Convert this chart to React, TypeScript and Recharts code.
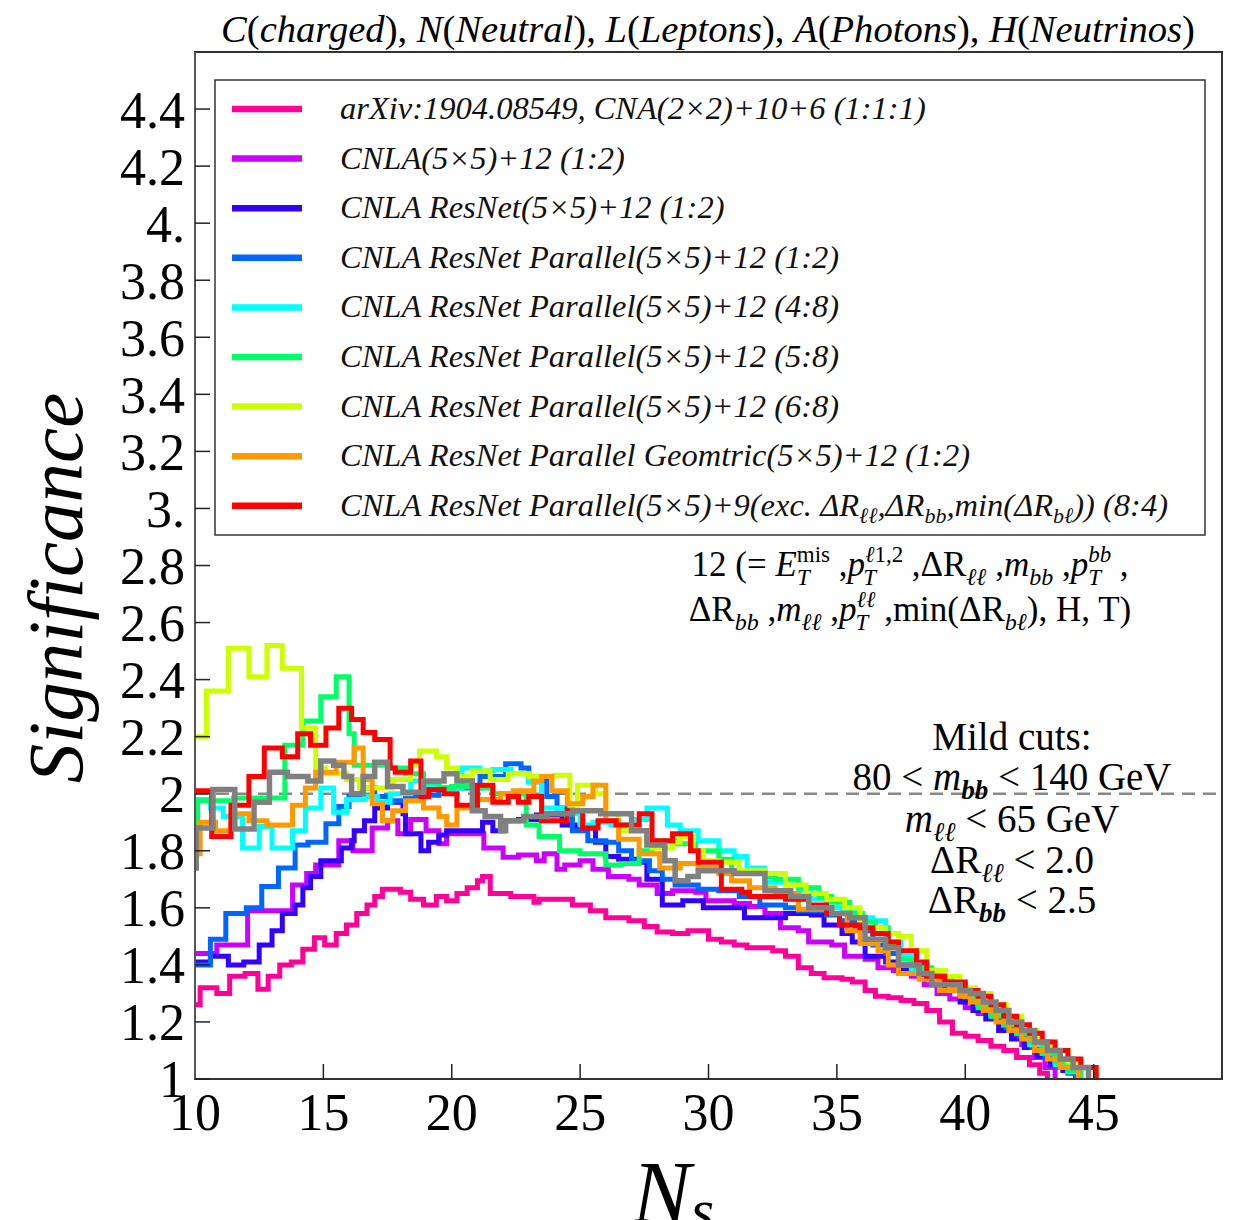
import { LineChart, Line, XAxis, YAxis, ReferenceLine, ReferenceArea } from 'recharts'

// [Ns, significance] step points
const pink = [
  [10, 1.26], [10.2, 1.32], [10.85, 1.3], [11.35, 1.36], [11.95, 1.37], [12.45, 1.315], [12.85, 1.36], [13.3, 1.4],
  [13.75, 1.41], [14.2, 1.455], [14.65, 1.495], [15.05, 1.47], [15.5, 1.51], [15.9, 1.54], [16.3, 1.58], [16.7, 1.61],
  [17.0, 1.64], [17.3, 1.665], [18.0, 1.655], [18.4, 1.63], [18.9, 1.61], [19.4, 1.64], [19.8, 1.625], [20.2, 1.65],
  [20.6, 1.67], [21.0, 1.695], [21.2, 1.71], [21.5, 1.65], [22.3, 1.64], [23.2, 1.62], [23.4, 1.63], [24.7, 1.61],
  [25.4, 1.59], [26.0, 1.565], [26.9, 1.555], [27.5, 1.535], [28.0, 1.515], [28.6, 1.51], [29.2, 1.52], [29.6, 1.52],
  [30.0, 1.49], [30.5, 1.48], [31.0, 1.47], [31.5, 1.46], [32.0, 1.46], [32.5, 1.45], [33.0, 1.43], [33.5, 1.39],
  [34.0, 1.37], [34.5, 1.355], [35.2, 1.35], [35.6, 1.34], [36.1, 1.31], [36.5, 1.29], [37.0, 1.285], [37.5, 1.275],
  [38.0, 1.265], [38.5, 1.24], [39.0, 1.2], [39.5, 1.16], [40.0, 1.15], [40.5, 1.135], [41.0, 1.115], [41.5, 1.1],
  [42.0, 1.075], [42.5, 1.05], [42.9, 1.02], [43.2, 1.0],
]

const purple = [
  [10, 1.44], [10.85, 1.47], [12.05, 1.59], [13.8, 1.68], [14.35, 1.72], [14.7, 1.75], [15.6, 1.835], [16.15, 1.8],
  [16.9, 1.88], [17.5, 1.905], [17.9, 1.86], [18.4, 1.91], [19.0, 1.87], [19.5, 1.825], [19.8, 1.86], [21.25, 1.81],
  [22.0, 1.777], [22.6, 1.785], [23.3, 1.765], [23.6, 1.79], [24.1, 1.735], [24.4, 1.75], [25.0, 1.765], [25.5, 1.735],
  [26.1, 1.71], [26.9, 1.7], [27.3, 1.68], [28.0, 1.65], [28.6, 1.66], [29.5, 1.655], [29.9, 1.625], [30.5, 1.625],
  [31.0, 1.615], [31.6, 1.605], [32.2, 1.58], [32.8, 1.53], [33.5, 1.52], [33.9, 1.48], [34.8, 1.47], [35.3, 1.43],
  [36.1, 1.42], [36.6, 1.39], [37.2, 1.38], [37.9, 1.36], [38.4, 1.33], [38.9, 1.3], [39.4, 1.28], [40.0, 1.25],
  [40.5, 1.23], [40.9, 1.215], [41.4, 1.18], [41.8, 1.155], [42.2, 1.12], [42.7, 1.075], [43.1, 1.04], [43.5, 1.0],
]

const darkBlue = [
  [10, 1.41], [10.6, 1.43], [11.3, 1.4], [11.9, 1.41], [12.5, 1.47], [13.0, 1.52], [13.4, 1.58], [13.9, 1.61],
  [14.2, 1.67], [14.5, 1.71], [14.9, 1.765], [15.7, 1.81], [16.1, 1.835], [16.2, 1.87], [16.6, 1.905], [17.0, 1.95],
  [17.5, 1.97], [18.1, 1.93], [18.2, 1.86], [18.8, 1.8], [19.1, 1.83], [19.5, 1.855], [19.8, 1.87], [21.2, 1.9],
  [21.6, 1.87], [22.0, 1.905], [22.6, 1.91], [23.3, 1.925], [24.3, 1.89], [24.8, 1.88], [25.6, 1.83], [26.0, 1.78],
  [26.5, 1.77], [27.2, 1.76], [27.6, 1.7], [28.2, 1.61], [29.0, 1.625], [29.8, 1.6], [30.4, 1.6], [31.4, 1.565],
  [32.2, 1.565], [33.0, 1.58], [34.0, 1.575], [34.5, 1.54], [35.2, 1.51], [35.6, 1.48], [36.1, 1.43], [36.9, 1.41],
  [37.4, 1.38], [38.2, 1.36], [38.7, 1.33], [39.2, 1.31], [39.8, 1.27], [40.3, 1.24], [40.8, 1.21], [41.3, 1.17],
  [41.8, 1.14], [42.3, 1.11], [42.8, 1.08], [43.3, 1.05], [43.8, 1.03], [44.3, 1.0],
]

const blue = [
  [10, 1.4], [10.6, 1.49], [11.2, 1.58], [12.0, 1.6], [12.6, 1.675], [13.25, 1.74], [13.9, 1.82], [14.4, 1.83],
  [15.1, 1.895], [15.6, 1.955], [16.0, 1.99], [16.5, 2.02], [17.0, 1.99], [17.6, 1.975], [18.2, 1.99], [19.0, 1.995],
  [19.5, 2.02], [21.1, 2.06], [22.1, 2.105], [22.7, 2.09], [23.0, 2.045], [23.7, 1.99], [24.1, 1.95], [24.7, 1.87],
  [25.3, 1.835], [26.0, 1.83], [26.5, 1.8], [27.0, 1.765], [27.7, 1.73], [28.2, 1.7], [28.7, 1.68], [29.6, 1.665],
  [30.4, 1.66], [31.2, 1.64], [32.0, 1.61], [33.0, 1.6], [33.5, 1.59], [34.6, 1.575], [35.1, 1.555], [35.7, 1.52],
  [36.4, 1.47], [36.9, 1.44], [37.4, 1.4], [38.5, 1.38], [39.2, 1.33], [40.0, 1.3], [40.5, 1.26], [41.0, 1.22],
  [41.6, 1.18], [42.1, 1.15], [42.6, 1.11], [43.1, 1.08], [43.6, 1.04], [44.0, 1.02], [44.3, 1.0],
]

const cyan = [
  [10, 1.98], [10.6, 1.95], [11.1, 1.92], [11.85, 1.81], [12.5, 1.885], [13.0, 1.81], [13.8, 1.87], [14.3, 1.95],
  [14.9, 2.02], [15.4, 1.935], [15.9, 1.98], [16.6, 1.99], [17.1, 1.97], [17.6, 2.0], [18.4, 2.045], [18.9, 2.03],
  [19.5, 2.02], [20.4, 2.09], [21.1, 2.08], [21.6, 2.085], [22.3, 2.07], [23.0, 2.04], [23.5, 1.95], [24.3, 1.93],
  [25.0, 1.89], [25.5, 1.9], [26.2, 1.89], [27.0, 1.91], [27.6, 1.95], [28.4, 1.89], [28.9, 1.87], [29.6, 1.835],
  [30.4, 1.8], [31.0, 1.78], [31.5, 1.74], [32.2, 1.69], [33.0, 1.68], [33.5, 1.66], [34.0, 1.63], [34.6, 1.6],
  [35.2, 1.585], [35.8, 1.565], [36.4, 1.555], [36.9, 1.48], [37.5, 1.43], [37.9, 1.38], [38.5, 1.37], [39.0, 1.35],
  [39.5, 1.32], [40.0, 1.29], [40.5, 1.26], [41.0, 1.225], [41.5, 1.19], [42.0, 1.16], [42.5, 1.12], [43.0, 1.09],
  [43.5, 1.05], [44.0, 1.025], [44.5, 1.0],
]

const green = [
  [10, 1.84], [10.1, 1.975], [11.5, 1.985], [13.5, 2.17], [14.2, 2.255], [14.9, 2.34], [15.5, 2.41], [16.0, 2.21],
  [16.2, 2.1], [17.6, 2.09], [18.2, 2.07], [18.9, 2.04], [19.5, 2.02], [20.0, 2.025], [20.8, 2.02], [21.6, 2.0],
  [22.9, 1.89], [23.4, 1.85], [24.2, 1.8], [25.0, 1.79], [26.0, 1.75], [26.6, 1.755], [27.3, 1.8], [27.8, 1.835],
  [28.7, 1.825], [29.5, 1.8], [30.4, 1.77], [30.9, 1.725], [32.2, 1.71], [32.6, 1.7], [33.5, 1.67], [34.3, 1.64],
  [34.8, 1.62], [35.5, 1.58], [36.0, 1.55], [36.5, 1.53], [37.0, 1.47], [37.4, 1.42], [38.1, 1.39], [38.7, 1.35],
  [39.5, 1.33], [40.0, 1.29], [40.5, 1.25], [41.0, 1.22], [41.5, 1.19], [42.0, 1.16], [42.5, 1.13], [43.0, 1.09],
  [43.5, 1.06], [44.0, 1.03], [44.5, 1.0],
]

const yellow = [
  [10, 2.2], [10.45, 2.36], [11.3, 2.51], [12.1, 2.41], [12.8, 2.52], [13.4, 2.44], [14.15, 2.23], [14.7, 2.09],
  [15.1, 2.07], [15.9, 2.05], [16.4, 2.02], [17.7, 2.05], [18.4, 2.1], [18.75, 2.15], [19.4, 2.13], [19.8, 2.09],
  [20.2, 2.06], [20.8, 2.08], [21.5, 2.05], [22.2, 2.07], [23.0, 2.06], [24.0, 2.065], [24.6, 1.96], [24.9, 2.03],
  [25.6, 2.0], [26.0, 1.93], [26.5, 1.87], [27.6, 1.84], [27.8, 1.81], [28.6, 1.83], [28.9, 1.85], [29.4, 1.8],
  [29.8, 1.765], [30.4, 1.76], [31.2, 1.73], [32.2, 1.72], [33.0, 1.68], [33.8, 1.65], [34.6, 1.63], [35.3, 1.6],
  [35.9, 1.53], [36.9, 1.51], [37.4, 1.5], [37.9, 1.45], [38.5, 1.38], [39.2, 1.36], [39.8, 1.32], [40.4, 1.3],
  [41.0, 1.26], [41.6, 1.22], [42.2, 1.17], [42.8, 1.13], [43.4, 1.1], [44.0, 1.06], [44.5, 1.04], [45.1, 1.0],
]

const orange = [
  [10, 1.79], [10.2, 1.9], [10.8, 1.87], [11.4, 1.93], [12.1, 1.905], [12.8, 1.89], [13.8, 1.96], [14.3, 2.02],
  [14.7, 2.075], [15.5, 2.11], [16.2, 2.16], [16.55, 2.05], [16.9, 1.965], [17.3, 1.905], [17.7, 1.94], [18.2, 1.975],
  [18.9, 1.95], [19.5, 1.92], [19.8, 1.89], [20.2, 1.95], [21.0, 1.98], [21.9, 2.0], [22.4, 2.01], [23.2, 2.045],
  [23.5, 2.06], [23.9, 2.01], [24.5, 1.965], [25.1, 1.99], [25.5, 2.03], [26.0, 1.905], [26.5, 1.84], [27.3, 1.79],
  [28.1, 1.74], [28.9, 1.755], [29.6, 1.74], [30.4, 1.72], [30.9, 1.695], [31.6, 1.67], [32.6, 1.65], [33.5, 1.595],
  [34.8, 1.58], [35.4, 1.52], [35.9, 1.475], [36.6, 1.45], [37.0, 1.4], [37.4, 1.37], [38.2, 1.35], [39.0, 1.31],
  [39.8, 1.29], [40.2, 1.27], [40.7, 1.24], [41.2, 1.2], [41.7, 1.17], [42.2, 1.14], [42.7, 1.1], [43.2, 1.07],
  [43.7, 1.04], [44.4, 1.0],
]

const red = [
  [10, 2.01], [10.65, 1.85], [11.4, 1.96], [12.1, 2.06], [12.7, 2.16], [13.4, 2.13], [14.0, 2.21], [14.5, 2.17],
  [15.1, 2.23], [15.6, 2.3], [16.1, 2.26], [16.55, 2.215], [17.0, 2.19], [17.6, 2.09], [17.8, 2.075], [18.4, 2.115],
  [18.8, 1.99], [19.1, 2.015], [19.7, 2.0], [20.2, 1.96], [21.0, 2.03], [21.6, 1.97], [22.2, 1.99], [22.6, 1.97],
  [23.0, 1.99], [23.5, 1.905], [24.5, 1.94], [25.1, 1.88], [25.7, 1.905], [26.4, 1.89], [27.3, 1.93], [27.8, 1.835],
  [28.6, 1.86], [29.3, 1.8], [29.6, 1.76], [30.5, 1.665], [31.3, 1.655], [31.6, 1.64], [33.0, 1.63], [33.9, 1.61],
  [34.6, 1.58], [35.1, 1.54], [35.9, 1.53], [36.4, 1.51], [37.0, 1.48], [37.4, 1.45], [38.1, 1.41], [38.5, 1.36],
  [39.2, 1.34], [40.0, 1.31], [40.5, 1.29], [41.0, 1.26], [41.5, 1.22], [42.0, 1.19], [42.5, 1.16], [43.0, 1.13],
  [43.5, 1.1], [44.0, 1.07], [44.5, 1.04], [45.1, 1.0],
]

const gray = [
  [10, 1.74], [10.05, 1.88], [10.7, 2.015], [11.55, 1.876], [12.3, 1.97], [12.9, 2.075], [13.6, 2.06], [14.4, 2.045],
  [14.9, 2.115], [15.4, 2.1], [15.8, 2.06], [16.1, 2.0], [16.55, 2.06], [17.0, 2.11], [17.5, 2.025], [18.1, 2.005],
  [18.9, 2.045], [19.7, 2.07], [20.2, 2.045], [20.8, 1.94], [21.3, 1.92], [21.9, 1.87], [22.1, 1.905], [22.8, 1.92],
  [23.7, 1.93], [24.7, 1.94], [25.8, 1.93], [27.0, 1.87], [27.6, 1.82], [28.3, 1.765], [28.7, 1.695], [29.2, 1.71],
  [29.6, 1.73], [30.4, 1.73], [31.0, 1.72], [32.2, 1.66], [33.2, 1.64], [33.9, 1.6], [34.8, 1.58], [35.5, 1.565],
  [36.1, 1.49], [36.9, 1.46], [37.4, 1.4], [38.2, 1.37], [38.7, 1.33], [39.8, 1.31], [40.2, 1.3], [40.7, 1.27],
  [41.2, 1.24], [41.7, 1.2], [42.2, 1.17], [42.7, 1.13], [43.2, 1.1], [43.7, 1.07], [44.2, 1.04], [44.8, 1.0],
]

const xTicks = [10, 15, 20, 25, 30, 35, 40, 45]
const yTicks = [1, 1.2, 1.4, 1.6, 1.8, 2, 2.2, 2.4, 2.6, 2.8, 3, 3.2, 3.4, 3.6, 3.8, 4, 4.2, 4.4]

const legendLabels = [
  'arXiv:1904.08549, CNA(2×2)+10+6 (1:1:1)',
  'CNLA(5×5)+12 (1:2)',
  'CNLA ResNet(5×5)+12 (1:2)',
  'CNLA ResNet Parallel(5×5)+12 (1:2)',
  'CNLA ResNet Parallel(5×5)+12 (4:8)',
  'CNLA ResNet Parallel(5×5)+12 (5:8)',
  'CNLA ResNet Parallel(5×5)+12 (6:8)',
  'CNLA ResNet Parallel Geomtric(5×5)+12 (1:2)',
  'CNLA ResNet Parallel(5×5)+9(exc. ',
]

const series = [
  { key: 'pink', color: '#ff0099', pts: pink },
  { key: 'purple', color: '#cc00ff', pts: purple },
  { key: 'darkBlue', color: '#3300ff', pts: darkBlue },
  { key: 'blue', color: '#0066ff', pts: blue },
  { key: 'cyan', color: '#00ffff', pts: cyan },
  { key: 'green', color: '#00ff66', pts: green },
  { key: 'yellow', color: '#ccff00', pts: yellow },
  { key: 'orange', color: '#ff9900', pts: orange },
  { key: 'red', color: '#ff0000', pts: red },
  { key: 'gray', color: '#808080', pts: gray },
]

const serif = "'Liberation Serif', 'Times New Roman', serif"

const fmtY = (v: number) => {
  if (v === 1 || v === 2) return String(v)
  if (v === 3 || v === 4) return v + '.'
  return v.toFixed(1)
}

const toRows = (pts: number[][]) => pts.map(([n, s]) => ({ n, s }))

function Overlay() {
  const rowY = (i: number) => 109 + i * 49.6
  return (
    <svg width={1236} height={1220} style={{ position: 'absolute', left: 0, top: 0, pointerEvents: 'none', fontFamily: serif }}>
      {/* title */}
      <text x={708} y={42} textAnchor="middle" fontSize={38.6} fill="#000">
        <tspan fontStyle="italic">C</tspan>(<tspan fontStyle="italic">charged</tspan>), <tspan fontStyle="italic">N</tspan>(
        <tspan fontStyle="italic">Neutral</tspan>), <tspan fontStyle="italic">L</tspan>(<tspan fontStyle="italic">Leptons</tspan>),{' '}
        <tspan fontStyle="italic">A</tspan>(<tspan fontStyle="italic">Photons</tspan>), <tspan fontStyle="italic">H</tspan>(
        <tspan fontStyle="italic">Neutrinos</tspan>)
      </text>

      {/* legend */}
      <rect x={215} y={80} width={990} height={455} fill="#fff" stroke="#333" strokeWidth={1.5} />
      {series.slice(0, 9).map((s, i) => (
        <line key={s.key} x1={232} x2={302} y1={rowY(i)} y2={rowY(i)} stroke={s.color} strokeWidth={6.5} />
      ))}
      {legendLabels.map((t, i) => (
        <text key={i} x={340} y={rowY(i) + 10} fontSize={32.5} fontStyle="italic" fill="#111">
          {t}
          {i === 8 && (
            <>
              ΔR<tspan dy={7} fontSize={22}>ℓℓ</tspan>
              <tspan dy={-7}>,ΔR</tspan>
              <tspan dy={7} fontSize={22}>bb</tspan>
              <tspan dy={-7}>,min(ΔR</tspan>
              <tspan dy={7} fontSize={22}>bℓ</tspan>
              <tspan dy={-7}>)) (8:4)</tspan>
            </>
          )}
        </text>
      ))}

      {/* feature list */}
      <text x={910} y={576} textAnchor="middle" fontSize={35} fill="#000">
        12 (= <tspan fontStyle="italic">E</tspan>
        <tspan dy={-14} fontSize={23}>mis</tspan>
        <tspan dx={-33} dy={23} fontSize={23} fontStyle="italic">T</tspan>
        <tspan dx={20} dy={-9}> ,</tspan>
        <tspan fontStyle="italic">p</tspan>
        <tspan dy={-14} fontSize={23} fontStyle="italic">ℓ</tspan>
        <tspan fontSize={23}>1,2</tspan>
        <tspan dx={-40} dy={23} fontSize={23} fontStyle="italic">T</tspan>
        <tspan dx={27} dy={-9}> ,ΔR</tspan>
        <tspan dy={9} fontSize={24} fontStyle="italic">ℓℓ</tspan>
        <tspan dy={-9}> ,</tspan>
        <tspan fontStyle="italic">m</tspan>
        <tspan dy={9} fontSize={24} fontStyle="italic">bb</tspan>
        <tspan dy={-9}> ,</tspan>
        <tspan fontStyle="italic">p</tspan>
        <tspan dy={-14} fontSize={23} fontStyle="italic">bb</tspan>
        <tspan dx={-23} dy={23} fontSize={23} fontStyle="italic">T</tspan>
        <tspan dx={10} dy={-9}> ,</tspan>
      </text>
      <text x={910} y={621} textAnchor="middle" fontSize={35} fill="#000">
        ΔR<tspan dy={9} fontSize={24} fontStyle="italic">bb</tspan>
        <tspan dy={-9}> ,</tspan>
        <tspan fontStyle="italic">m</tspan>
        <tspan dy={9} fontSize={24} fontStyle="italic">ℓℓ</tspan>
        <tspan dy={-9}> ,</tspan>
        <tspan fontStyle="italic">p</tspan>
        <tspan dy={-14} fontSize={23} fontStyle="italic">ℓℓ</tspan>
        <tspan dx={-20} dy={23} fontSize={23} fontStyle="italic">T</tspan>
        <tspan dx={7} dy={-9}> ,min(ΔR</tspan>
        <tspan dy={9} fontSize={24} fontStyle="italic">bℓ</tspan>
        <tspan dy={-9}>), H, T)</tspan>
      </text>

      {/* cuts */}
      <g fontSize={39} fill="#000" textAnchor="middle">
        <text x={1012} y={750}>Mild cuts:</text>
        <text x={1012} y={790}>
          80 &lt; <tspan fontStyle="italic">m</tspan>
          <tspan dy={9} fontSize={27} fontStyle="italic" fontWeight="bold">bb</tspan>
          <tspan dy={-9}> &lt; 140 GeV</tspan>
        </text>
        <text x={1012} y={832}>
          <tspan fontStyle="italic">m</tspan>
          <tspan dy={9} fontSize={27} fontStyle="italic">ℓℓ</tspan>
          <tspan dy={-9}> &lt; 65 GeV</tspan>
        </text>
        <text x={1012} y={873}>
          ΔR<tspan dy={9} fontSize={27} fontStyle="italic">ℓℓ</tspan>
          <tspan dy={-9}> &lt; 2.0</tspan>
        </text>
        <text x={1012} y={913}>
          ΔR<tspan dy={9} fontSize={27} fontStyle="italic" fontWeight="bold">bb</tspan>
          <tspan dy={-9}> &lt; 2.5</tspan>
        </text>
      </g>

      {/* axis titles */}
      <text transform="translate(82, 588) rotate(-90)" textAnchor="middle" fontSize={79} fontStyle="italic" fill="#000">
        Significance
      </text>
      <text x={632} y={1222} fontSize={88} fontStyle="italic" fill="#000">
        N<tspan dy={8} fontSize={60}>s</tspan>
      </text>
    </svg>
  )
}

export default function App() {
  return (
    <div style={{ position: 'absolute', left: 0, top: 0, width: 1236, height: 1220, background: '#fff', fontFamily: serif }}>
      <style>{`.recharts-cartesian-axis-tick-value, .recharts-cartesian-axis-tick-value tspan { font-family: ${serif}; }`}</style>
      <LineChart width={1236} height={1220} margin={{ top: 52, right: 14, bottom: 111, left: 135 }}>
        <XAxis
          xAxisId="b"
          dataKey="n"
          type="number"
          domain={[10, 50]}
          ticks={xTicks}
          allowDataOverflow
          height={30}
          axisLine={{ stroke: '#333', strokeWidth: 2 }}
          tickLine={{ stroke: '#222', strokeWidth: 1.5 }}
          tickSize={-15}
          tickMargin={29}
          tick={{ fontSize: 52, fill: '#000', fontFamily: serif }}
        />
        <YAxis
          yAxisId="l"
          type="number"
          domain={[1, 4.6]}
          ticks={yTicks}
          allowDataOverflow
          width={60}
          interval={0}
          tickFormatter={fmtY}
          axisLine={{ stroke: '#555', strokeWidth: 2 }}
          tickLine={{ stroke: '#222', strokeWidth: 1.5 }}
          tickSize={-15}
          tickMargin={25}
          tick={{ fontSize: 52, fill: '#000', fontFamily: serif }}
        />
        <ReferenceArea xAxisId="b" yAxisId="l" x1={10} x2={50} y1={1} y2={4.6} fill="none" fillOpacity={0} stroke="#333" strokeWidth={2} ifOverflow="extendDomain" />
        <ReferenceLine xAxisId="b" yAxisId="l" y={2} stroke="#888" strokeWidth={2.5} strokeDasharray="13 8" />
        {series.map((s) => (
          <Line
            key={s.key}
            xAxisId="b"
            yAxisId="l"
            data={toRows(s.pts)}
            dataKey="s"
            type="stepAfter"
            stroke={s.color}
            strokeWidth={s.key === 'gray' ? 5.5 : 5}
            dot={false}
            isAnimationActive={false}
          />
        ))}
      </LineChart>
      <Overlay />
    </div>
  )
}
